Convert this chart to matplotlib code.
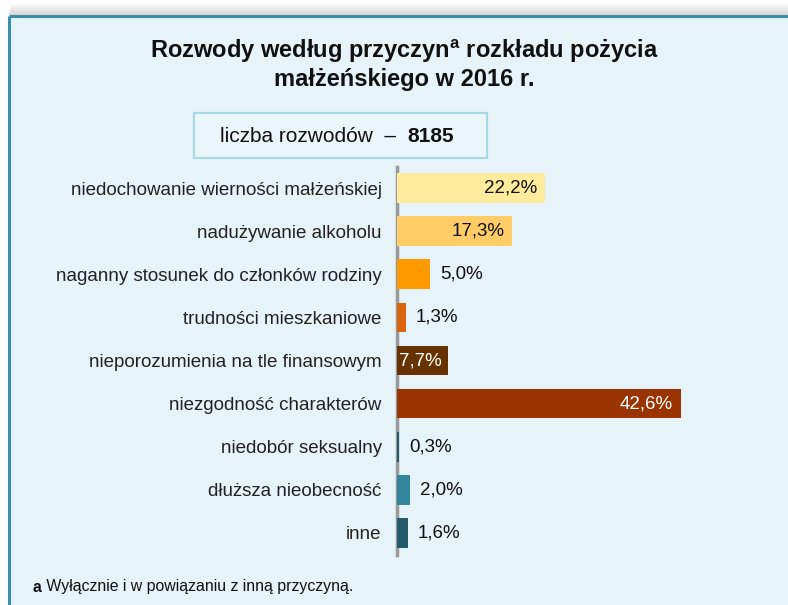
import matplotlib
matplotlib.use("Agg")
import matplotlib.pyplot as plt
from matplotlib.patches import Rectangle
import matplotlib.transforms as mtrans
import numpy as np

categories = [
    "niedochowanie wierności małżeńskiej",
    "nadużywanie alkoholu",
    "naganny stosunek do członków rodziny",
    "trudności mieszkaniowe",
    "nieporozumienia na tle finansowym",
    "niezgodność charakterów",
    "niedobór seksualny",
    "dłuższa nieobecność",
    "inne",
]
values = [22.2, 17.3, 5.0, 1.3, 7.7, 42.6, 0.3, 2.0, 1.6]
labels = ["22,2%", "17,3%", "5,0%", "1,3%", "7,7%", "42,6%", "0,3%", "2,0%", "1,6%"]
colors = ["#FFEB9C", "#FFCC66", "#FF9900", "#D9650F", "#663300",
          "#993300", "#1F5B6B", "#31869B", "#245B6B"]
# label placement: 'in_r' inside right, 'in_l' inside left, 'out' outside
placement = ["in_r", "in_r", "out", "out", "in_l", "in_r", "out", "out", "out"]
label_colors = ["#111111", "#111111", "#111111", "#111111", "white", "white",
                "#111111", "#111111", "#111111"]

title = "Rozwody według przyczyn$^{\\mathregular{a}}$ rozkładu pożycia\nmałżeńskiego w 2016 r."
box_text_normal = "liczba rozwodów  –  "
box_text_bold = "8185"
footnote_bold = "a"
footnote = " Wyłącznie i w powiązaniu z inną przyczyną."

plt.rcParams['font.family'] = ['Liberation Sans', 'DejaVu Sans']

W, H = 788, 605
fig = plt.figure(figsize=(W / 100, H / 100), dpi=100)
fig.patch.set_facecolor("white")

# background panel with shadow
bg = fig.add_axes([0, 0, 1, 1])
bg.set_xlim(0, W)
bg.set_ylim(H, 0)
bg.axis("off")
for i in range(12):
    a = 0.03 + 0.025 * i
    bg.add_patch(Rectangle((12 - i * 0.3, 3 + i), W, 1, facecolor="#808080",
                           alpha=a, edgecolor="none"))
bg.add_patch(Rectangle((9, 16), W, H, facecolor="#E6F3F8", edgecolor="none"))
bg.plot([9, W], [16, 16], color="#3A8FA8", lw=2.2, solid_capstyle="butt")
bg.plot([9, 9], [16, H], color="#3A8FA8", lw=2.2, solid_capstyle="butt")

# title
bg.text(404, 64, title, ha="center", va="center", fontsize=17, fontweight="bold",
        color="#111111", linespacing=1.2)

# box
bg.add_patch(Rectangle((194, 113), 293, 45, facecolor="#EAF6FA",
                       edgecolor="#A6D9E3", lw=1.5))
t1 = bg.text(220, 136, box_text_normal, ha="left", va="center", fontsize=15,
             color="#111111")
fig.canvas.draw()
bb = t1.get_window_extent()
bg.text(bb.x1, 136, box_text_bold, ha="left", va="center", fontsize=15,
        fontweight="bold", color="#111111",
        transform=mtrans.blended_transform_factory(mtrans.IdentityTransform(), bg.transData))

# footnote
f1 = bg.text(33, 587, footnote_bold, ha="left", va="center", fontsize=11.4,
             fontweight="bold", color="#111111")
fig.canvas.draw()
bb = f1.get_window_extent()
bg.text(bb.x1, 587, footnote, ha="left", va="center", fontsize=11.4, color="#111111",
        transform=mtrans.blended_transform_factory(mtrans.IdentityTransform(), bg.transData))

# chart axes
px_per_unit = 6.67
ax_left, ax_top, ax_bot = 397, 166.5, 554.5
xmax = 50
ax = fig.add_axes([ax_left / W, (H - ax_bot) / H, xmax * px_per_unit / W,
                   (ax_bot - ax_top) / H])
ax.set_facecolor("none")
y = np.arange(len(categories))
ax.barh(y, values, height=0.69, color=colors, edgecolor="none", zorder=3)
ax.set_ylim(len(categories) - 0.5, -0.5)
ax.set_xlim(0, xmax)
for s in ["top", "right", "bottom"]:
    ax.spines[s].set_visible(False)
ax.spines["left"].set_color("#9A9A9A")
ax.spines["left"].set_linewidth(2.5)
ax.spines["left"].set_zorder(2)
ax.set_xticks([])
ax.set_yticks(y)
ax.set_yticklabels(categories, fontsize=13.5, color="#222222")
ax.tick_params(axis="y", length=0, pad=11)

for yi, v, lab, pl, lc in zip(y, values, labels, placement, label_colors):
    if pl == "in_r":
        ax.text(v - 1.2, yi, lab, ha="right", va="center", fontsize=13.5, color=lc, zorder=4)
    elif pl == "in_l":
        ax.text(0.25, yi, lab, ha="left", va="center", fontsize=13.5, color=lc, zorder=4)
    else:
        ax.text(v + 1.5, yi, lab, ha="left", va="center", fontsize=13.5, color=lc, zorder=4)

fig.savefig("out.png", dpi=100, facecolor=fig.get_facecolor())
